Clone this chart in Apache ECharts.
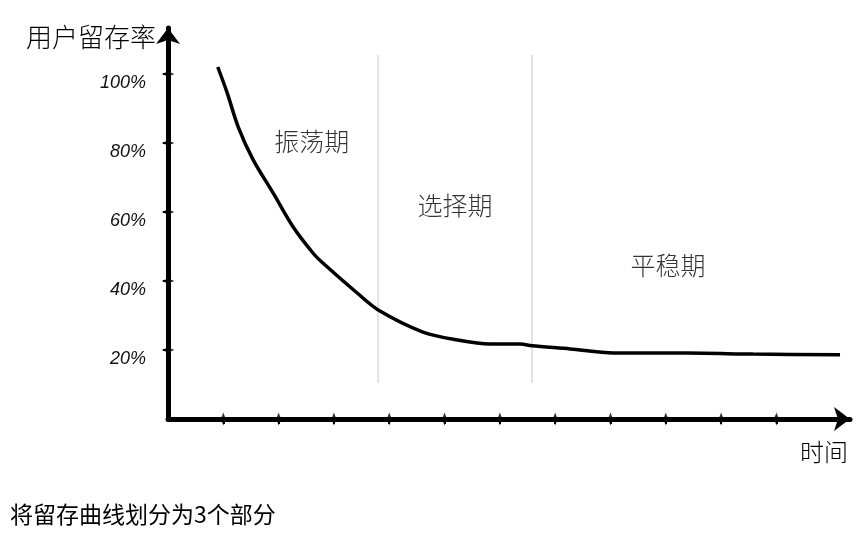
<!DOCTYPE html>
<html>
<head>
<meta charset="utf-8">
<script src="https://cdn.jsdelivr.net/npm/echarts@6/dist/echarts.min.js"></script>
<style>html,body{margin:0;padding:0;background:#fff}#c{width:865px;height:537px}</style>
</head>
<body>
<div id="c"></div>
<script>
// ---- data ----
var curveX = [0.90, 1.07, 1.27, 1.54, 1.90, 2.26, 2.62, 2.80, 3.42, 3.80, 4.61, 5.23, 5.82, 6.37, 6.58, 7.27, 8.05, 9.39, 10.58, 12.15];
var curveY = [102.0, 94.5, 84.6, 75.1, 65.5, 55.7, 48.1, 45.2, 36.5, 31.6, 25.2, 22.9, 21.7, 21.7, 21.2, 20.3, 19.1, 19.1, 18.8, 18.6];
var xTicks = [1, 2, 3, 4, 5, 6, 7, 8, 9, 10, 11];
var yTicks = [20, 40, 60, 80, 100];
var dividerX = [3.80, 6.58];
var dividerYRange = [10.4, 105.5];
var phaseNames = ['振荡期', '选择期', '平稳期'];
var phaseX = [2.60, 5.19, 9.04];
var phaseY = [80.3, 62.0, 44.6];
var xName = '时间';
var yName = '用户留存率';
var titleText = '将留存曲线划分为3个部分';
var X_MAX = 12.33, Y_MAX = 113.3;

var chart = echarts.init(document.getElementById('c'), null, {renderer: 'canvas'});
var handFont = '"Noto Sans CJK SC", "Noto Sans", sans-serif';

var series = [];
dividerX.forEach(function (dx) {
  series.push({
    type: 'line', symbol: 'none', silent: true,
    data: [[dx, dividerYRange[0]], [dx, dividerYRange[1]]],
    lineStyle: {color: '#e2e2e2', width: 2}
  });
});
series.push({
  type: 'line', symbol: 'none', smooth: 0.3,
  data: curveX.map(function (x, i) { return [x, curveY[i]]; }),
  lineStyle: {color: '#000', width: 3.5}
});
series.push({
  type: 'scatter', symbolSize: 0,
  data: phaseNames.map(function (n, i) { return {name: n, value: [phaseX[i], phaseY[i]]}; }),
  label: {show: true, position: 'inside', formatter: '{b}',
    fontFamily: handFont, fontSize: 25, fontWeight: 300, color: '#000'}
});
// tick marks crossing the axes (diamond shaped, like the sketch)
series.push({
  type: 'scatter', silent: true, clip: false, symbol: 'diamond', symbolSize: [5, 13],
  itemStyle: {color: '#000'}, z: 5,
  data: xTicks.map(function (t) { return [t, 0]; })
});
series.push({
  type: 'scatter', silent: true, clip: false, symbol: 'diamond', symbolSize: [13, 5],
  itemStyle: {color: '#000'}, z: 5,
  data: yTicks.map(function (t) { return [0, t]; })
});

var nameStyle = {fontFamily: handFont, fontWeight: 300, color: '#000'};
chart.setOption({
  animation: false,
  backgroundColor: '#fff',
  title: [
    {text: titleText, left: 5, top: 498,
      textStyle: {fontFamily: '"Noto Sans CJK SC", sans-serif', fontSize: 23, fontWeight: 'normal', color: '#000'}},
    {text: yName, right: 865 - 156, top: 24, padding: 0,
      textStyle: Object.assign({fontSize: 26}, nameStyle)},
    {text: xName, left: 800, top: 440, padding: 0,
      textStyle: Object.assign({fontSize: 24}, nameStyle)}
  ],
  grid: {left: 168, right: 15, top: 28, bottom: 118, containLabel: false},
  xAxis: {
    type: 'value', min: 0, max: X_MAX,
    splitLine: {show: false},
    axisLine: {show: true, symbol: ['none', 'arrow'], symbolSize: [18, 16],
      lineStyle: {color: '#000', width: 5, cap: 'round'}},
    axisTick: {show: true, length: 5, customValues: xTicks, lineStyle: {color: '#000', width: 2}},
    axisLabel: {show: false}
  },
  yAxis: {
    type: 'value', min: 0, max: Y_MAX,
    splitLine: {show: false},
    axisLine: {show: true, symbol: ['none', 'arrow'], symbolSize: [18, 16],
      lineStyle: {color: '#000', width: 5, cap: 'round'}},
    axisTick: {show: true, length: 5, customValues: yTicks, lineStyle: {color: '#000', width: 2}},
    axisLabel: {show: true, customValues: yTicks, margin: 22,
      formatter: function (v) { return v + '%'; },
      fontFamily: '"Liberation Sans", sans-serif', fontStyle: 'italic',
      fontSize: 18, color: '#111', verticalAlign: 'top'}
  },
  series: series
});
</script>
</body>
</html>
